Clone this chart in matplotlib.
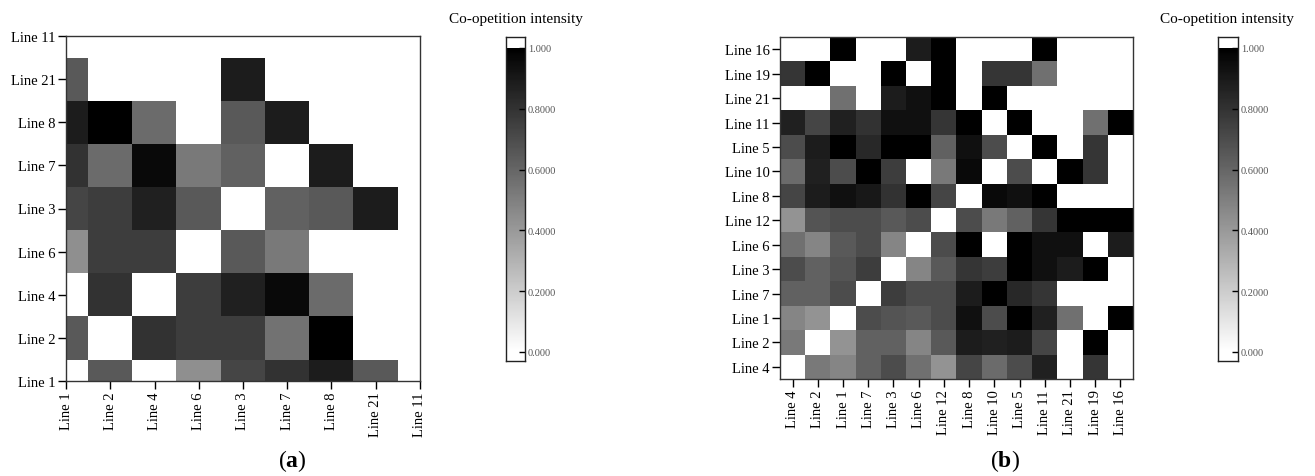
import numpy as np
import matplotlib
matplotlib.use("Agg")
import matplotlib.pyplot as plt

plt.rcParams['font.family'] = ['Liberation Serif', 'DejaVu Serif']
plt.rcParams['mathtext.fontset'] = 'custom'
plt.rcParams['mathtext.rm'] = 'Liberation Serif'
plt.rcParams['mathtext.bf'] = 'Liberation Serif:bold'

# ---------------- data ----------------
labels_a = ["Line 1", "Line 2", "Line 4", "Line 6", "Line 3", "Line 7", "Line 8", "Line 21", "Line 11"]
# rows bottom -> top (same order as labels_a), columns left -> right
values_a = [
    [0.00, 0.65, 0.00, 0.44, 0.73, 0.80, 0.89, 0.65, 0.00],
    [0.65, 0.00, 0.80, 0.76, 0.76, 0.55, 1.00, 0.00, 0.00],
    [0.00, 0.80, 0.00, 0.76, 0.87, 0.96, 0.58, 0.00, 0.00],
    [0.44, 0.76, 0.76, 0.00, 0.65, 0.52, 0.00, 0.00, 0.00],
    [0.73, 0.76, 0.87, 0.65, 0.00, 0.62, 0.65, 0.89, 0.00],
    [0.80, 0.58, 0.96, 0.52, 0.62, 0.00, 0.89, 0.00, 0.00],
    [0.89, 1.00, 0.58, 0.00, 0.65, 0.89, 0.00, 0.00, 0.00],
    [0.65, 0.00, 0.00, 0.00, 0.89, 0.00, 0.00, 0.00, 0.00],
    [0.00, 0.00, 0.00, 0.00, 0.00, 0.00, 0.00, 0.00, 0.00],
]

labels_b = ["Line 4", "Line 2", "Line 1", "Line 7", "Line 3", "Line 6", "Line 12",
            "Line 8", "Line 10", "Line 5", "Line 11", "Line 21", "Line 19", "Line 16"]
values_b = [
    [0.00, 0.52, 0.48, 0.62, 0.70, 0.56, 0.42, 0.73, 0.58, 0.70, 0.87, 0.00, 0.79, 0.00],
    [0.52, 0.00, 0.42, 0.62, 0.62, 0.48, 0.65, 0.89, 0.87, 0.89, 0.73, 0.00, 1.00, 0.00],
    [0.48, 0.42, 0.00, 0.70, 0.67, 0.65, 0.70, 0.93, 0.70, 1.00, 0.87, 0.56, 0.00, 1.00],
    [0.62, 0.62, 0.70, 0.00, 0.76, 0.70, 0.70, 0.89, 1.00, 0.84, 0.79, 0.00, 0.00, 0.00],
    [0.70, 0.62, 0.67, 0.76, 0.00, 0.48, 0.65, 0.79, 0.76, 1.00, 0.93, 0.89, 1.00, 0.00],
    [0.56, 0.48, 0.65, 0.70, 0.48, 0.00, 0.70, 1.00, 0.00, 1.00, 0.93, 0.93, 0.00, 0.89],
    [0.42, 0.67, 0.70, 0.70, 0.65, 0.70, 0.00, 0.70, 0.52, 0.62, 0.79, 1.00, 1.00, 1.00],
    [0.73, 0.89, 0.93, 0.90, 0.80, 1.00, 0.73, 0.00, 0.96, 0.93, 1.00, 0.00, 0.00, 0.00],
    [0.58, 0.87, 0.70, 1.00, 0.76, 0.00, 0.52, 0.96, 0.00, 0.70, 0.00, 1.00, 0.79, 0.00],
    [0.70, 0.89, 1.00, 0.84, 1.00, 1.00, 0.62, 0.93, 0.70, 0.00, 1.00, 0.00, 0.79, 0.00],
    [0.87, 0.73, 0.87, 0.80, 0.93, 0.93, 0.79, 1.00, 0.00, 1.00, 0.00, 0.00, 0.56, 1.00],
    [0.00, 0.00, 0.56, 0.00, 0.89, 0.93, 1.00, 0.00, 1.00, 0.00, 0.00, 0.00, 0.00, 0.00],
    [0.79, 1.00, 0.00, 0.00, 1.00, 0.00, 1.00, 0.00, 0.79, 0.79, 0.56, 0.00, 0.00, 0.00],
    [0.00, 0.00, 1.00, 0.00, 0.00, 0.89, 1.00, 0.00, 0.00, 0.00, 1.00, 0.00, 0.00, 0.00],
]

cbar_ticks = [0.0, 0.2, 0.4, 0.6, 0.8, 1.0]
cbar_ticklabels = ["0.000", "0.2000", "0.4000", "0.6000", "0.8000", "1.000"]
cbar_title = "Co-opetition intensity"

# ---------------- figure ----------------
W, H = 1315, 477
fig = plt.figure(figsize=(W / 100, H / 100), dpi=100)

def px_axes(x0, y0, x1, y1):
    return fig.add_axes([x0 / W, 1 - y1 / H, (x1 - x0) / W, (y1 - y0) / H])

cmap = plt.get_cmap('gray_r').copy()
cmap.set_over('white')
cmap.set_under('white')

def heat(ax, vals, labels, lim):
    arr = np.array(vals)
    n = arr.shape[0]
    ax.imshow(arr, cmap=cmap, vmin=0, vmax=1, origin='lower', aspect='auto',
              interpolation='nearest', extent=(-0.5, n - 0.5, -0.5, n - 0.5))
    ax.set_xlim(*lim)
    ax.set_ylim(*lim)
    ax.set_xticks(range(n))
    ax.set_yticks(range(n))
    ax.set_xticklabels(labels, rotation=90, fontsize=10.5)
    ax.set_yticklabels(labels, fontsize=10.5)
    ax.tick_params(direction='out', length=5.5, width=1.0, color='black', pad=2)
    for s in ax.spines.values():
        s.set_linewidth(1.0)
        s.set_color('#333333')

def cbar(x0, x1, y0, y1, title_x):
    cax = px_axes(x0, y0, x1, y1)
    lo, hi = -0.03, 1.036
    grad = np.linspace(lo, hi, 600).reshape(-1, 1)
    cax.imshow(grad, cmap=cmap, vmin=0, vmax=1, origin='lower', aspect='auto',
               extent=(0, 1, lo, hi), interpolation='nearest')
    cax.set_xlim(0, 1)
    cax.set_ylim(lo, hi)
    cax.set_xticks([])
    cax.yaxis.tick_right()
    cax.set_yticks(cbar_ticks)
    cax.set_yticklabels(cbar_ticklabels, fontsize=7.5, color='#555555')
    cax.tick_params(axis='y', direction='in', length=4, width=1.0, color='black', pad=2)
    for s in cax.spines.values():
        s.set_linewidth(1.0)
        s.set_color('#222222')
    fig.text(title_x / W, 1 - 20 / H, cbar_title, ha='center', va='center', fontsize=11)

ax_a = px_axes(66, 37, 420, 382)
heat(ax_a, values_a, labels_a, (0, 8))
cbar(506, 525, 38, 362, 516)

ax_b = px_axes(780, 38, 1133, 380)
heat(ax_b, values_b, labels_b, (-0.5, 13.5))
cbar(1218, 1238, 38, 362, 1227)

fig.text(292 / W, 1 - 461 / H, r'($\mathbf{a}$)', ha='center', va='center', fontsize=17)
fig.text(1005 / W, 1 - 461 / H, r'($\mathbf{b}$)', ha='center', va='center', fontsize=17)

fig.savefig('out.png', dpi=100)
